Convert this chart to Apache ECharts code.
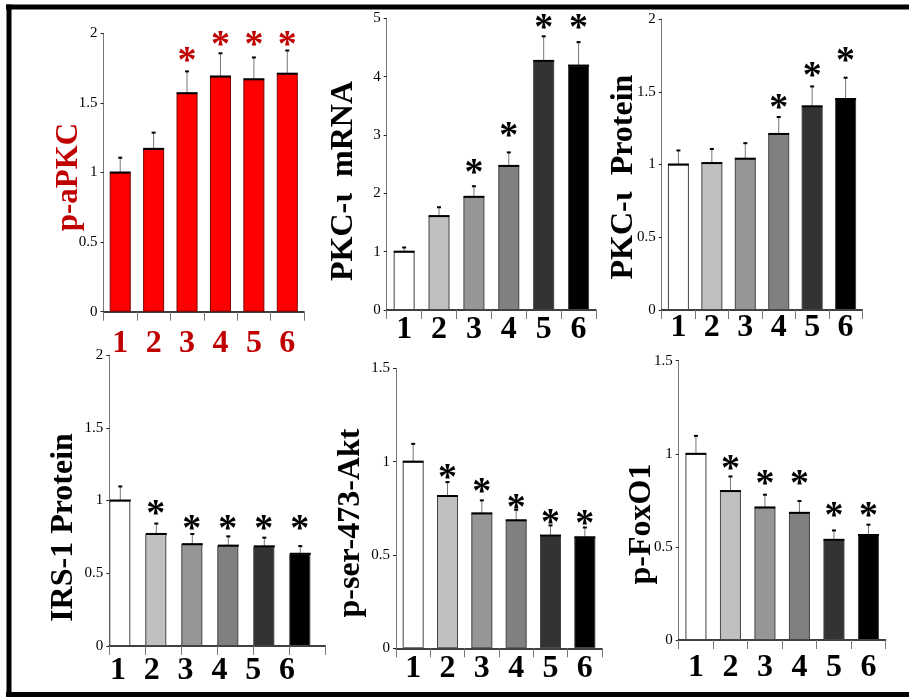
<!DOCTYPE html>
<html><head><meta charset="utf-8">
<script src="https://cdn.jsdelivr.net/npm/echarts@6/dist/echarts.min.js"></script>
<style>html,body{margin:0;padding:0;background:#fff}#c{width:909px;height:697px}</style>
</head><body><div id="c"></div>
<script>
// ---------- data ----------
const categories = ['1', '2', '3', '4', '5', '6'];
const titles = ['p-aPKC', 'PKC-\u03b9  mRNA', 'PKC-\u03b9  Protein', 'IRS-1 Protein', 'p-ser-473-Akt', 'p-FoxO1'];
const yMax = [2, 5, 2, 2, 1.5, 1.5];
const yInterval = [0.5, 1, 0.5, 0.5, 0.5, 0.5];

const paPKC      = [1.00, 1.17, 1.57, 1.69, 1.67, 1.71];
const paPKCErr   = [0.11, 0.12, 0.16, 0.17, 0.16, 0.17];
const paPKCStar  = [null, null, 1.84, 1.96, 1.96, 1.96];

const pkcMRNA     = [1.00, 1.61, 1.94, 2.47, 4.27, 4.19];
const pkcMRNAErr  = [0.08, 0.16, 0.19, 0.24, 0.43, 0.41];
const pkcMRNAStar = [null, null, 2.45, 3.08, 4.93, 4.93];

const pkcProt     = [1.00, 1.01, 1.04, 1.21, 1.40, 1.45];
const pkcProtErr  = [0.10, 0.10, 0.11, 0.12, 0.14, 0.15];
const pkcProtStar = [null, null, null, 1.43, 1.65, 1.75];

const irs1      = [1.00, 0.77, 0.70, 0.69, 0.685, 0.634];
const irs1Err   = [0.10, 0.075, 0.073, 0.067, 0.063, 0.056];
const irs1Star  = [null, 0.948, 0.845, 0.845, 0.845, 0.845];

const akt      = [1.00, 0.816, 0.723, 0.686, 0.604, 0.595];
const aktErr   = [0.098, 0.077, 0.072, 0.059, 0.057, 0.055];
const aktStar  = [null, 0.946, 0.871, 0.785, 0.705, 0.698];

const foxo1     = [1.00, 0.80, 0.712, 0.683, 0.538, 0.564];
const foxo1Err  = [0.099, 0.081, 0.071, 0.066, 0.053, 0.058];
const foxo1Star = [null, 0.952, 0.871, 0.871, 0.699, 0.699];

const panelValues = [paPKC, pkcMRNA, pkcProt, irs1, akt, foxo1];
const panelErrors = [paPKCErr, pkcMRNAErr, pkcProtErr, irs1Err, aktErr, foxo1Err];
const panelStars  = [paPKCStar, pkcMRNAStar, pkcProtStar, irs1Star, aktStar, foxo1Star];

// ---------- styles / layout ----------
const RED_BAR = '#ff0000', RED_TXT = '#c00000';
const grayColors = ['#ffffff', '#c0c0c0', '#969696', '#808080', '#333333', '#000000'];
const layout = [
  {grid:{left:103.5, right:605,   top:33.3,  bottom:385.3}, tx:69,  ty:177,   tsize:31, margin:16, red:true},
  {grid:{left:386.7, right:313,   top:18.3,  bottom:387},   tx:344, ty:181,   tsize:32, margin:4},
  {grid:{left:661.7, right:46.7,  top:19,    bottom:387},   tx:624, ty:177,   tsize:32, margin:2},
  {grid:{left:109.3, right:583.7, top:355,   bottom:51},    tx:64,  ty:527.5, tsize:32, margin:9, shift:true},
  {grid:{left:396,   right:307,   top:368.3, bottom:48.7},  tx:351, ty:523,   tsize:32, margin:4},
  {grid:{left:678.7, right:23.3,  top:360.7, bottom:57},    tx:642, ty:524,   tsize:32, margin:12}
];
const BAR_W = 21;
const LABEL_SIZE = 32;
const SERIF = '"Liberation Serif", "Times New Roman", serif';

function errRender(shift) {
  return function (params, api) {
    const i = api.value(0), v = api.value(1), e = api.value(2);
    const p0 = api.coord([i, v]), p1 = api.coord([i, v + e]);
    const bw = api.size([1, 0])[0];
    const cx = shift ? p0[0] - bw / 2 + BAR_W / 2 + 0.5 : p0[0];
    return {type: 'group', children: [
      {type: 'line', shape: {x1: cx, y1: p0[1], x2: cx, y2: p1[1]}, style: {stroke: '#777', lineWidth: 1}},
      {type: 'line', shape: {x1: cx - 2, y1: p1[1] + 0.5, x2: cx + 2, y2: p1[1] + 0.5}, style: {stroke: '#000', lineWidth: 2}},
      {type: 'line', shape: {x1: cx - BAR_W / 2, y1: p0[1], x2: cx + BAR_W / 2, y2: p0[1]}, style: {stroke: '#000', lineWidth: 2}}
    ]};
  };
}
function starRender(shift, color) {
  return function (params, api) {
    const i = api.value(0), s = api.value(1);
    const p = api.coord([i, s]);
    const bw = api.size([1, 0])[0];
    const cx = shift ? p[0] - bw / 2 + BAR_W / 2 : p[0];
    return {type: 'text', x: cx, y: p[1] + 7, style: {
      text: '*', fontFamily: SERIF, fontWeight: 'bold', fontSize: 38,
      fill: color, align: 'center', verticalAlign: 'middle'}};
  };
}

const grids = [], xAxes = [], yAxes = [], series = [], graphics = [];
layout.forEach((L, k) => {
  grids.push(L.grid);
  xAxes.push({
    type: 'category', gridIndex: k, data: categories, boundaryGap: true,
    axisLine: {lineStyle: {color: '#000', width: 1.5}},
    axisTick: {show: true, length: 9, lineStyle: {color: '#777', width: 1}},
    axisLabel: {show: !L.shift, interval: 0, margin: L.margin, fontFamily: SERIF, fontWeight: 'bold',
      fontSize: LABEL_SIZE, color: L.red ? RED_TXT : '#000'}
  });
  yAxes.push({
    type: 'value', gridIndex: k, min: 0, max: yMax[k], interval: yInterval[k],
    axisLine: {show: true, lineStyle: {color: '#777', width: 1}},
    axisTick: {show: true, length: 3, lineStyle: {color: '#222'}},
    axisLabel: {margin: 6, fontFamily: SERIF, fontSize: 15, color: '#000'},
    splitLine: {show: false}
  });
  const vals = panelValues[k];
  series.push({
    type: 'bar', xAxisIndex: k, yAxisIndex: k, barWidth: BAR_W, barGap: '0%',
    data: vals.map((v, i) => ({value: v, itemStyle: {color: L.red ? RED_BAR : grayColors[i]}})),
    itemStyle: {borderColor: L.red ? '#7a0000' : '#444', borderWidth: 1},
    animation: false
  });
  if (L.shift) {
    series.push({type: 'bar', xAxisIndex: k, yAxisIndex: k, barWidth: 15, barGap: '0%',
      data: categories.map(() => '-'), animation: false});
  }
  series.push({
    type: 'custom', xAxisIndex: k, yAxisIndex: k, renderItem: errRender(!!L.shift),
    data: vals.map((v, i) => [i, v, panelErrors[k][i]]), z: 5, animation: false
  });
  const st = [];
  panelStars[k].forEach((s, i) => { if (s != null) st.push([i, s]); });
  series.push({
    type: 'custom', xAxisIndex: k, yAxisIndex: k, renderItem: starRender(!!L.shift, L.red ? RED_TXT : '#000'),
    data: st, z: 6, animation: false
  });
  graphics.push({
    type: 'text', x: L.tx, y: L.ty, rotation: Math.PI / 2,
    style: {text: titles[k], fontFamily: SERIF, fontWeight: 'bold', fontSize: L.tsize,
      fill: L.red ? RED_TXT : '#000', align: 'center', verticalAlign: 'middle'}
  });
});

// separate label axis for the IRS-1 panel (its labels are set slightly left of the bars)
grids.push({left: 101, right: 605, top: 355, bottom: 51});
xAxes.push({type: 'category', gridIndex: 6, data: categories, axisLine: {show: false}, axisTick: {show: false},
  axisLabel: {interval: 0, margin: 9, fontFamily: SERIF, fontWeight: 'bold', fontSize: LABEL_SIZE, color: '#000'}});
yAxes.push({type: 'value', gridIndex: 6, show: false, min: 0, max: 1});

// frame
graphics.push(
  {type: 'line', shape: {x1: 6, y1: 7, x2: 909, y2: 7}, style: {stroke: '#000', lineWidth: 5}},
  {type: 'line', shape: {x1: 9, y1: 4.5, x2: 9, y2: 697}, style: {stroke: '#000', lineWidth: 5}},
  {type: 'line', shape: {x1: 6, y1: 694.5, x2: 909, y2: 694.5}, style: {stroke: '#000', lineWidth: 5}}
);

const chart = echarts.init(document.getElementById('c'), null, {renderer: 'canvas'});
chart.setOption({
  animation: false,
  backgroundColor: '#fff',
  grid: grids, xAxis: xAxes, yAxis: yAxes, series: series, graphic: graphics
});
</script></body></html>
